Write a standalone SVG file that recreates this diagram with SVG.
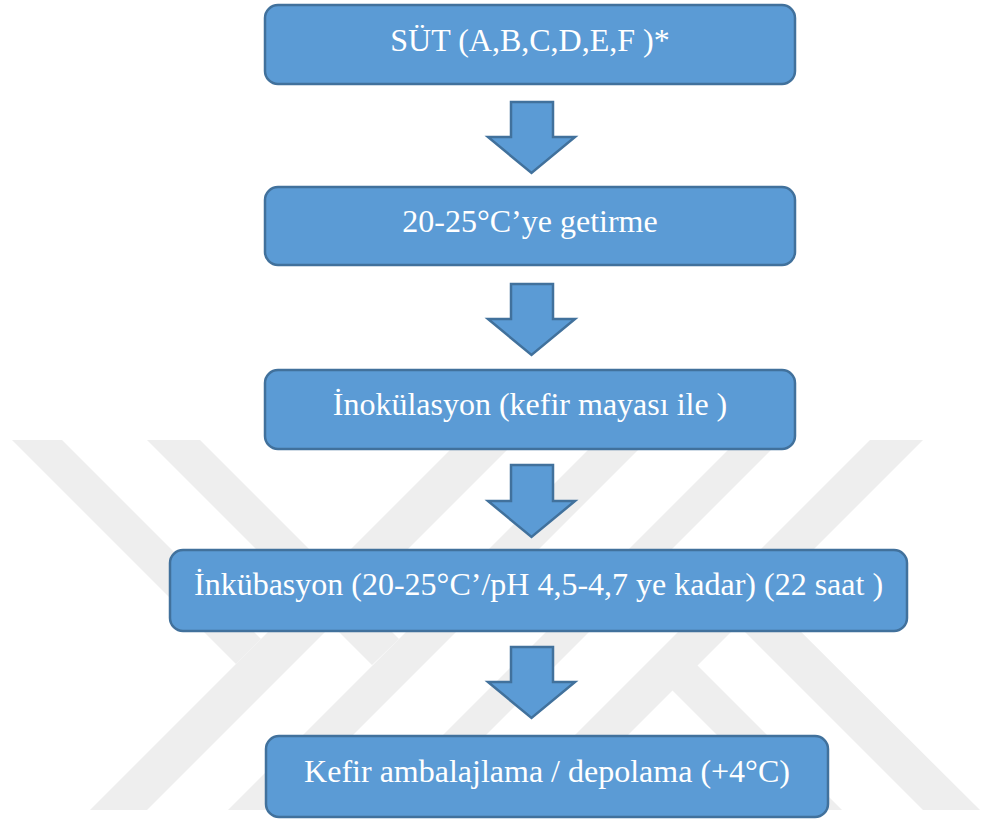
<svg xmlns="http://www.w3.org/2000/svg" width="981" height="820" viewBox="0 0 981 820">
<style>
.wm{fill:#eeeeee}
.box{fill:#5b9bd5;stroke:#41719c;stroke-width:2.5}
.arr{fill:#5b9bd5;stroke:#41719c;stroke-width:2.5;stroke-linejoin:miter}
.lbl{font-family:"Liberation Serif","Times New Roman",serif;font-size:32px;fill:#ffffff;text-anchor:middle}
</style>
<rect x="0" y="0" width="981" height="820" fill="#ffffff"/>
<g id="watermark">
<polygon class="wm" points="90,810 147,810 517,440 460,440"/>
<polygon class="wm" points="12,440 62,440 261,639 236,664"/>
<polygon class="wm" points="228,810 278,810 648,440 598,440"/>
<polygon class="wm" points="147,440 200,440 399,639 372,665"/>
<polygon class="wm" points="368,810 411,810 781,440 738,440"/>
<polygon class="wm" points="870,440 923,440 553,810 500,810"/>
<polygon class="wm" points="923,810 980,810 766,597 738,625"/>
<polygon class="wm" points="792,810 842,810 697,665 672,690"/>
</g>
<g id="connectors">
<polygon class="arr" points="511,102 553,102 553,137 575,137 531.5,173 488,137 511,137"/>
<polygon class="arr" points="511,284 553,284 553,319 575,319 531.5,355 488,319 511,319"/>
<polygon class="arr" points="511,465 553,465 553,501 575,501 531.5,537 488,501 511,501"/>
<polygon class="arr" points="511,647 553,647 553,682 575,682 531.5,718 488,682 511,682"/>
</g>
<g id="n1">
<rect class="box" x="265" y="5" width="530" height="79" rx="13"/>
<text class="lbl" x="530" y="51">SÜT (A,B,C,D,E,F )*</text>
</g>
<g id="n2">
<rect class="box" x="265" y="187" width="530" height="78" rx="13"/>
<text class="lbl" x="530" y="232">20-25°C’ye getirme</text>
</g>
<g id="n3">
<rect class="box" x="265" y="370" width="530" height="79" rx="13"/>
<text class="lbl" x="530" y="415">İnokülasyon (kefir mayası ile )</text>
</g>
<g id="n4">
<rect class="box" x="170" y="550" width="737" height="81" rx="13"/>
<text class="lbl" x="538.5" y="595">İnkübasyon (20-25°C’/pH 4,5-4,7 ye kadar) (22 saat )</text>
</g>
<g id="n5">
<rect class="box" x="266" y="736" width="562" height="81" rx="13"/>
<text class="lbl" x="547" y="782">Kefir ambalajlama / depolama (+4°C)</text>
</g>
</svg>
